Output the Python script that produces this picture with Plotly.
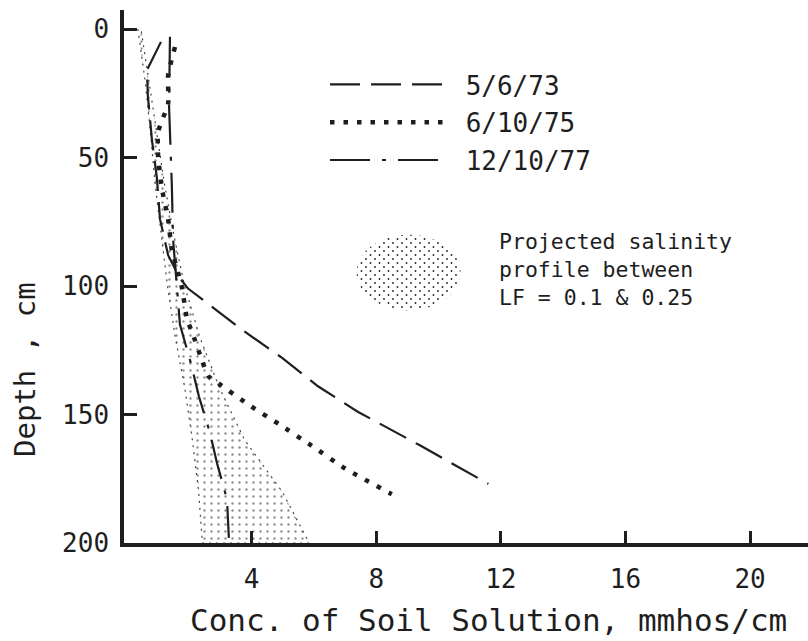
import base64
import plotly.graph_objects as go

# ---- data ----
depth_1973 = [5, 16, 26, 43, 58, 74, 88, 97, 101, 117, 128, 139, 149, 162, 177]
conc_1973 = [1.09, 0.64, 0.67, 0.80, 0.96, 1.06, 1.32, 1.70, 1.96, 3.69, 4.98, 6.13, 7.42, 9.4, 11.6]

depth_1975 = [7, 18, 29, 40, 50, 62, 74, 86, 93, 101, 113, 118, 129, 135, 138, 146, 154, 162, 171, 181]
conc_1975 = [1.54, 1.32, 1.32, 1.0, 1.0, 1.12, 1.32, 1.44, 1.6, 1.77, 1.93, 2.09, 2.41, 2.6, 2.95, 3.88, 4.91, 5.91, 7.0, 8.5]

depth_1977 = [3, 30, 61, 82, 100, 115, 130, 143, 157, 169, 183, 198]
conc_1977 = [1.38, 1.35, 1.44, 1.48, 1.6, 1.70, 2.05, 2.31, 2.66, 2.89, 3.21, 3.27]

proj_depth = [0, 20, 40, 60, 80, 100, 120, 140, 160, 180, 200]
proj_low = [0.35, 0.58, 0.75, 0.9, 1.1, 1.3, 1.55, 1.86, 2.1, 2.3, 2.42]
proj_high = [0.45, 0.7, 0.95, 1.2, 1.5, 1.85, 2.34, 2.98, 3.78, 4.98, 5.85]

series_names = ["5/6/73", "6/10/75", "12/10/77"]
x_ticks = [4, 8, 12, 16, 20]
y_ticks = [0, 50, 100, 150, 200]

INK = "#1e1e1e"
FONT = "DejaVu Sans Mono"
NB = "\u00a0"

fig = go.Figure()

# projected salinity band (stippled)
fig.add_trace(go.Scatter(
    x=proj_low + proj_high[::-1],
    y=proj_depth + proj_depth[::-1],
    mode="lines", fill="toself",
    fillcolor="rgba(0,0,0,0)",
    fillpattern=dict(shape=".", size=7, solidity=0.09, fgcolor=INK, bgcolor="white"),
    line=dict(color="#444", width=1.2, dash="2px,5px"),
    showlegend=False, hoverinfo="skip",
))

fig.add_trace(go.Scatter(
    x=conc_1973, y=depth_1973, mode="lines", name=NB + series_names[0],
    legendgroup="a",
    line=dict(color=INK, width=2.2, dash="30px,11px"),
))
fig.add_trace(go.Scatter(
    x=conc_1975, y=depth_1975, mode="lines", name=NB + series_names[1],
    legendgroup="b",
    line=dict(color=INK, width=4.5, dash="4.5px,9px", shape="spline", smoothing=0.5),
))
fig.add_trace(go.Scatter(
    x=conc_1977, y=depth_1977, mode="lines", name=NB + series_names[2],
    legendgroup="c",
    line=dict(color=INK, width=2.2, dash="40px,12px,4px,12px"),
))

# stipple blob for the projected-profile key
svg = (
    '<svg xmlns="http://www.w3.org/2000/svg" width="107" height="79" viewBox="0 0 107 79">'
    '<defs><pattern id="p" width="9" height="8" patternUnits="userSpaceOnUse">'
    '<circle cx="2" cy="2" r="0.9" fill="#222"/><circle cx="6.5" cy="6" r="0.9" fill="#222"/>'
    '</pattern></defs>'
    '<ellipse cx="53.5" cy="39.5" rx="52" ry="38" fill="url(#p)"/></svg>'
)
src = "data:image/svg+xml;base64," + base64.b64encode(svg.encode()).decode()

L, T, B = 124, 10, 98
W, H = 808, 641
pw, ph = W - L, H - T - B

def px(xp):
    return (xp - L) / pw

def py(yp):
    return (H - B - yp) / ph

fig.add_layout_image(dict(
    source=src, xref="paper", yref="paper",
    x=px(355), y=py(233), sizex=107 / pw, sizey=79 / ph,
    xanchor="left", yanchor="top", sizing="stretch", layer="above",
))

fig.add_annotation(
    text="Projected salinity<br>profile between<br>LF = 0.1 & 0.25",
    xref="paper", yref="paper", x=px(497), y=py(227),
    xanchor="left", yanchor="top", align="left", showarrow=False,
    font=dict(family=FONT, size=21.5, color=INK),
)
fig.add_annotation(
    text="Depth , cm", textangle=-90,
    xref="paper", yref="paper", x=px(25), y=py(370),
    xanchor="center", yanchor="middle", showarrow=False,
    font=dict(family=FONT, size=29, color=INK),
)
fig.add_annotation(
    text="Conc. of Soil Solution, mmhos/cm",
    xref="paper", yref="paper", x=px(489), y=py(620),
    xanchor="center", yanchor="middle", showarrow=False,
    font=dict(family=FONT, size=31, color=INK),
)

fig.update_layout(
    width=W, height=H,
    margin=dict(l=L, r=0, t=T, b=B, pad=0),
    paper_bgcolor="white", plot_bgcolor="white",
    font=dict(family=FONT, color=INK),
    showlegend=True,
    legend=dict(
        x=px(325), y=py(61), xanchor="left", yanchor="top",
        bgcolor="rgba(0,0,0,0)", borderwidth=0,
        font=dict(family=FONT, size=26, color=INK),
        itemwidth=115, tracegroupgap=1,
    ),
    xaxis=dict(
        range=[-0.096, 21.86], showgrid=False, zeroline=False,
        showline=True, linecolor=INK, linewidth=3.5,
        ticks="inside", ticklen=12, tickwidth=2.5, tickcolor=INK,
        tickvals=x_ticks, ticktext=[str(v) for v in x_ticks],
        tickfont=dict(family=FONT, size=26, color=INK),
        ticklabelstandoff=10,
    ),
    yaxis=dict(
        range=[200, -7.4], showgrid=False, zeroline=False,
        showline=True, linecolor=INK, linewidth=3.5,
        ticks="inside", ticklen=13, tickwidth=2.5, tickcolor=INK,
        tickvals=y_ticks, ticktext=[str(v) for v in y_ticks],
        tickfont=dict(family=FONT, size=26, color=INK),
        ticklabelstandoff=6,
    ),
)

fig.write_html(
    "out.html",
    config={"displayModeBar": False},
    post_script="document.body.style.margin='0px';document.body.style.overflow='hidden';",
)
